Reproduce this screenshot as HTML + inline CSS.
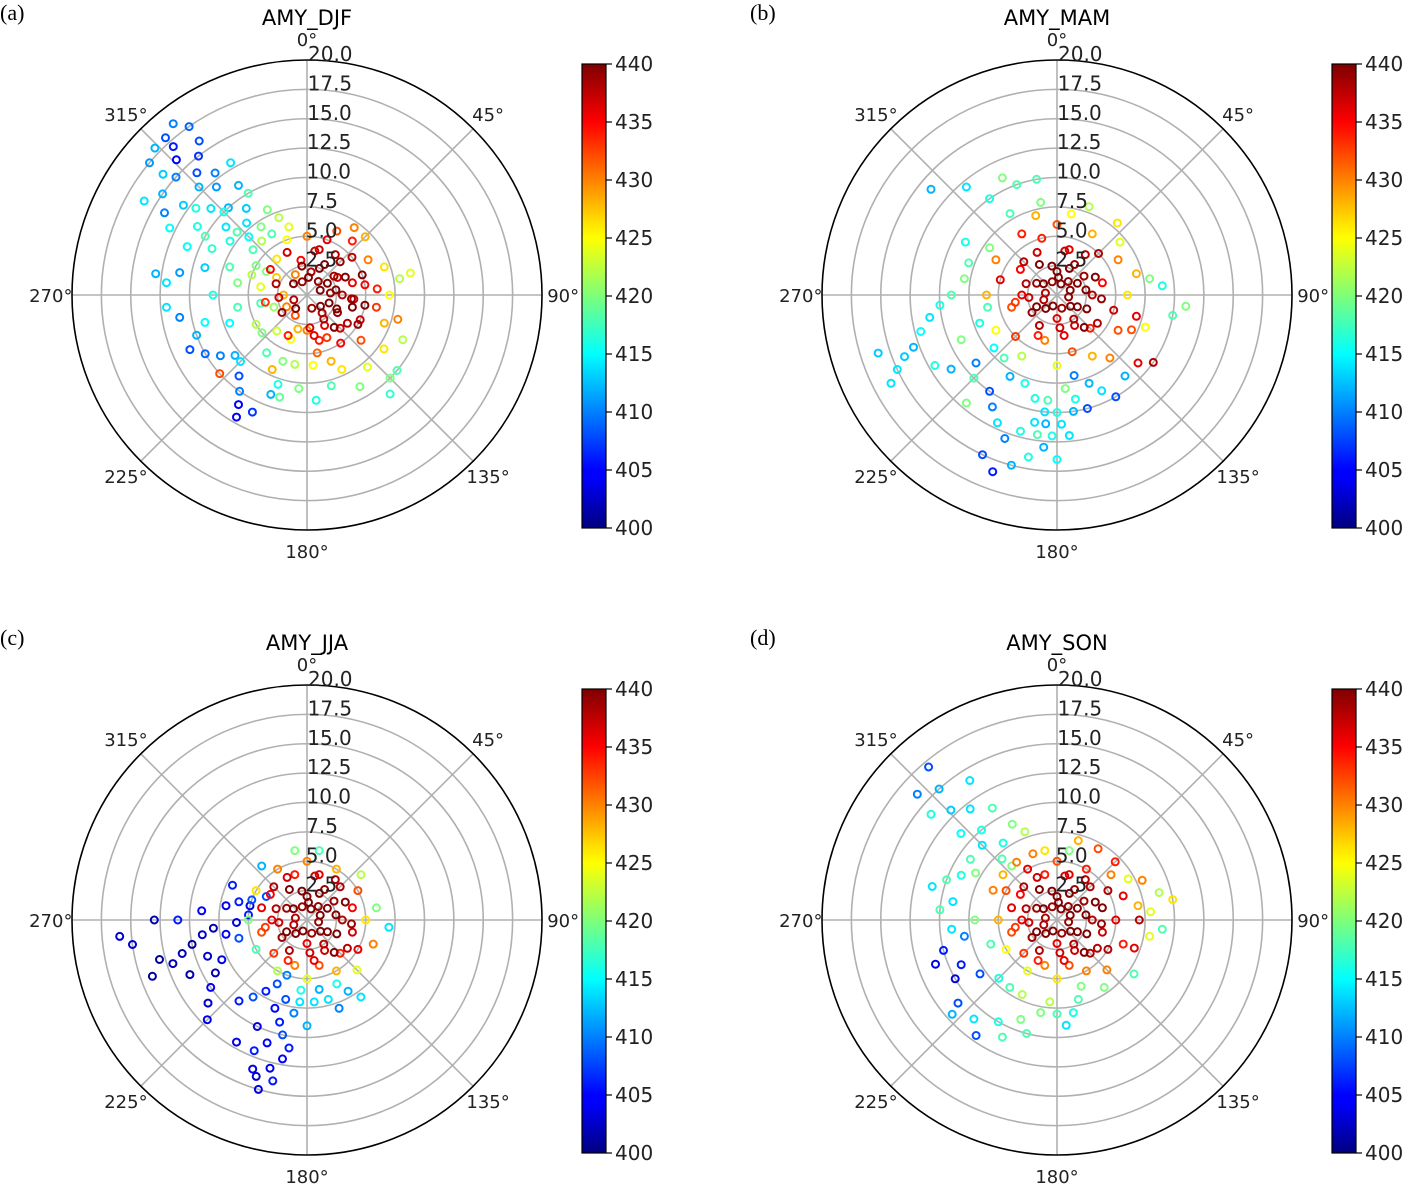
<!DOCTYPE html>
<html><head><meta charset="utf-8">
<style>
html,body{margin:0;padding:0;background:#fff;}
svg{display:block;font-family:"DejaVu Sans","Liberation Sans",sans-serif;}
.plab{font-family:"Liberation Serif",serif;font-size:22px;}
</style></head>
<body>
<svg id="fig" width="1411" height="1186" viewBox="0 0 1411 1186" xmlns="http://www.w3.org/2000/svg">
<defs>
<linearGradient id="jet" x1="0" y1="1" x2="0" y2="0">
<stop offset="0" stop-color="#00007f"/><stop offset="0.11" stop-color="#0000ff"/>
<stop offset="0.125" stop-color="#0000ff"/><stop offset="0.34" stop-color="#00dcff"/>
<stop offset="0.375" stop-color="#00ffff"/><stop offset="0.5" stop-color="#7dff7a"/>
<stop offset="0.625" stop-color="#ffff00"/><stop offset="0.66" stop-color="#ffe000"/>
<stop offset="0.875" stop-color="#ff0000"/><stop offset="1" stop-color="#7f0000"/>
</linearGradient>
</defs>
</svg>
<script>
// [direction deg, wind speed, concentration]
const ticksR = [2.5,5.0,7.5,10.0,12.5,15.0,17.5,20.0];
const ticksTheta = [0,45,90,135,180,225,270,315];
const cbarTicks = [400,405,410,415,420,425,430,435,440];
const titles = ["AMY_DJF","AMY_MAM","AMY_JJA","AMY_SON"];
const panelLabels = ["(a)","(b)","(c)","(d)"];

const coreCommon = [
[5,1.5,440],[40,1.5,439],[70,1.2,440],[130,1.5,440],[160,1.2,439],[220,1.5,440],[250,1.2,438],[310,1.5,440],[340,1.2,439],
[25,2.5,440],[55,2.8,439],[80,2.5,440],[115,2.8,440],[145,2.5,438],[175,2.8,437],[235,2.6,439],[265,2.4,437],[290,2.8,438],[350,2.5,440],
[10,3.8,437],[35,4.2,438],[65,3.6,440],[95,3.8,439],[125,4.2,438],[140,3.6,440],[170,3.5,436],[205,3.8,434],[260,3.6,433],[305,3.8,435],[335,4.0,437]
];
const dataDJF = [
[10,2,438],[30,3,440],[45,4,439],[60,3,437],[75,4,436],[90,3,438],[105,4,440],[120,3,439],[135,4,437],[150,3,436],[165,4,434],[180,3,430],[195,3,428],[210,2,432],[240,2,430],[270,2,428],[300,3,427],[330,2,430],[350,3,435],[20,5,436],[50,5,438],[80,5,435],[100,6,433],[115,5,437],[130,6,432],[145,5,435],[160,6,428],[175,6,425],[190,6,422],[60,6,430],[40,6,434],[25,6,432],[0,5,430],[90,7,425],[110,7,428],[125,8,426],[140,8,424],[150,9,420],[165,8,418],[175,9,416],[185,8,420],[195,9,419],[80,8,422],[78,9,424],[70,7,426],[45,7,428],[115,9,422],[130,10,418],[140,11,417],[135,10,420],
[60,2,440],[85,2,439],[110,2,440],[140,2,438],[100,5,440],[120,5,439],[70,5,440],[95,4,437],[155,4,433],[170,5,431],[200,4,425],[220,4,423],[250,3,421],[280,4,424],[320,4,426],[15,4,437],[35,7,430],[85,6,434],[105,8,430],[155,7,426],[200,6,420],[215,6,418],[230,5,420],[260,4,418],[300,4,420],[340,5,425],
[300,5,420],[310,6,418],[315,7,415],[320,8,414],[305,8,416],[325,9,413],[318,10,412],[312,11,414],[320,12,411],[323,13,410],[315,13,412],[318,14,408],[322,15,407],[312,15,410],[316,16,405],[310,16,413],[325,16,408],[318,17,406],[308,12,416],[300,10,418],[330,10,418],[335,8,420],[340,7,422],[345,6,424],[290,7,418],[285,9,413],[280,11,411],[275,12,414],[278,13,412],[265,12,414],[260,11,410],[255,9,415],[250,10,412],[245,11,408],[240,10,409],[235,9,410],[230,8,412],[225,8,414],[220,9,408],[215,10,410],[212,11,405],[210,12,405],[205,11,407],[200,9,412],[198,8,416],[250,7,415],[260,6,418],[270,8,416],[280,6,420],[240,5,422],[228,10,432],[205,7,428],[290,5,422],[300,14,410],[305,15,412],[296,13,415],[310,9,414],[328,11,412],[315,10,416],
[318,18,408],[322,18.5,410],[314,18,412],[325,17.5,409],[310,17.5,411],[300,16,414],[330,13,414],[306,13,413],[302,11,416],[296,9,417],[292,11,415],[312,8,418],[326,7,420],[330,6,418],[320,6,422]
];
const dataMAM = [
[0,2,440],[30,3,439],[60,2,440],[90,3,438],[120,2,440],[150,3,437],[180,2,436],[210,3,438],[240,2,440],[270,3,436],[300,2,439],[330,3,440],[15,4,436],[45,5,438],[75,4,435],[105,5,437],[135,4,434],[165,5,432],[195,4,430],[225,5,433],[255,4,432],[285,5,436],[315,4,438],[345,5,434],[0,6,432],[30,6,428],[60,6,430],[90,6,426],[120,6,432],[150,6,428],[180,6,424],[210,6,422],[240,6,425],[270,6,428],[300,6,430],[330,6,434],[20,1,440],[100,1,439],[200,1,440],[280,1,438],[50,7,424],[80,8,420],[110,8,425],[130,9,436],[125,10,438],[140,7,430],[100,10,418],[95,11,420],[85,9,416],[20,8,422],[350,8,420],[10,7,425],
[330,8,418],[325,10,416],[320,12,414],[310,14,412],[335,11,420],[340,10,418],[300,9,416],[290,8,418],[280,8,420],[270,9,418],[265,10,416],[260,11,414],[255,12,415],[250,13,412],[248,14,413],[245,15,414],[252,16,413],[242,16,414],[240,12,416],[235,11,412],[245,9,420],[230,9,410],[225,10,418],[220,12,420],[215,10,408],[210,11,410],[205,12,414],[200,13,410],[195,12,416],[190,11,414],[185,13,412],[190,14,416],[195,15,412],[200,16,406],[205,15,408],[180,10,416],[185,9,418],[175,8,420],[170,9,416],[165,10,408],[160,8,412],[155,9,414],[175,12,414],[180,14,415],[188,12,418],[200,8,416],[210,8,412],[220,7,418],[230,7,415],[250,7,416],[260,6,418],
[185,11,412],[182,12,416],[178,11,414],[186,10,414],[192,9,416],[172,10,412],[168,7,410],[150,10,408],[140,9,412],[115,7,432],[105,7,436],[75,7,428],[40,8,426],[345,7,428],[350,10,418],[305,7,420]
];
const dataJJA = [
[0,2,440],[30,3,439],[60,2,440],[90,3,438],[120,2,440],[150,3,437],[180,2,436],[210,3,438],[240,2,440],[270,3,436],[300,2,439],[330,3,440],[15,4,436],[45,4,438],[75,4,435],[105,4,437],[135,4,434],[165,4,432],[195,4,430],[225,4,433],[255,4,432],[285,4,436],[315,4,438],[345,4,434],[0,5,430],[30,5,428],[60,5,432],[90,5,426],[120,5,436],[150,5,428],[180,5,424],[210,5,422],[240,5,418],[270,5,420],[300,5,426],[330,5,430],[20,1,440],[100,1,439],[200,1,440],[280,1,438],[50,6,422],[80,6,420],[110,6,430],[135,6,424],[350,6,420],[10,6,418],[320,6,412],[95,7,414],
[255,6,408],[260,7,405],[265,8,402],[262,9,403],[258,10,401],[255,11,402],[252,12,402],[255,13,401],[250,14,401],[262,15,403],[265,16,403],[270,11,406],[275,9,405],[280,7,404],[285,6,406],[250,9,403],[245,8,404],[240,9,402],[235,10,405],[230,11,403],[225,12,404],[245,11,402],[270,13,402],[290,5,408],[295,7,406],
[200,5,410],[205,6,408],[210,7,406],[200,8,405],[195,9,406],[205,10,404],[198,11,405],[202,12,406],[194,13,404],[198,14,403],[190,12,405],[192,10,408],[188,8,410],[185,7,414],[215,8,408],[220,9,406],[210,12,404],[180,9,412],[175,7,414],[170,6,412],[165,7,414],[160,8,410],[155,6,416],[150,7,412],[145,8,414],[185,6,416],
[196,15,404],[192,14,406],[200,13.5,404],[188,11,406],[195,7,408],[268,6,404],[275,5,406],[284,5,404],[300,4,408]
];
const dataSON = [
[0,2,440],[30,3,439],[60,2,440],[90,3,438],[120,2,440],[150,3,437],[180,2,436],[210,3,438],[240,2,440],[270,3,436],[300,2,439],[330,3,440],[15,4,436],[45,4,438],[75,4,440],[105,4,437],[135,4,438],[165,4,432],[195,4,430],[225,4,433],[255,4,432],[285,4,436],[315,4,438],[345,4,434],[0,5,432],[30,5,434],[60,5,438],[90,5,436],[120,5,438],[150,5,430],[180,5,426],[210,5,424],[240,5,425],[270,5,428],[300,5,432],[330,5,436],[20,1,440],[100,1,439],[200,1,440],[280,1,438],[50,6,430],[80,7,428],[110,6,434],[135,6,430],[85,8,424],[75,9,422],[95,9,418],[100,8,424],[80,10,426],[60,7,424],[350,6,426],[10,6,420],[125,8,418],[145,7,420],
[320,6,420],[318,7,418],[325,8,416],[315,9,414],[320,10,416],[312,11,415],[322,12,414],[316,13,413],[310,14,416],[318,15,412],[312,16,410],[320,17,408],[328,14,414],[330,11,418],[335,9,420],[340,8,422],[305,9,418],[300,8,420],[295,9,416],[290,10,418],[285,11,414],[280,9,414],[275,10,418],[265,9,414],[260,8,410],[255,10,406],[250,11,404],[245,9,406],[240,10,404],[235,8,408],[230,11,408],[228,12,412],[220,11,414],[215,12,408],[210,10,416],[205,11,418],[200,9,420],[195,10,418],[190,8,420],[185,7,422],[180,8,418],[175,9,414],[170,8,416],[165,7,418],[160,6,420],[215,7,418],[225,7,416],[250,6,418],[270,7,420],[205,7,422],
[70,6,436],[90,7,438],[110,7,436],[65,8,430],[45,7,434],[30,7,432],[15,7,428],[340,6,430],[325,6,430],[310,6,428],[295,6,430]
];
const datasets = [dataDJF,dataMAM,dataJJA,dataSON];

const NS = "http://www.w3.org/2000/svg";
const svg = document.getElementById('fig');
const centers = [[307,295],[1057,295],[307,920],[1057,920]];
const R = 235, RMAX = 20;
const CMIN = 400, CMAX = 440;
function jet(v){
  let x = Math.max(0,Math.min(1,(v-CMIN)/(CMAX-CMIN)));
  const c = t=>Math.round(255*Math.max(0,Math.min(1,1.5-Math.abs(4*x-t))));
  return `rgb(${c(3)},${c(2)},${c(1)})`;
}
function rScale(s){return s/RMAX*R;}
function pos(cx,cy,dir,spd){const a=dir*Math.PI/180, r=rScale(spd);return [cx+r*Math.sin(a), cy-r*Math.cos(a)];}
function mk(tag,attrs,parent){const e=document.createElementNS(NS,tag);for(const k in attrs)e.setAttribute(k,attrs[k]);(parent||svg).appendChild(e);return e;}

centers.forEach(([cx,cy],p)=>{
  const g = mk('g',{});
  
  
  const pl = mk('text',{x:cx-307,y:cy-275,'class':'plab'},g); pl.textContent=panelLabels[p];
  
  
  const tt = mk('text',{x:cx,y:cy-270,'text-anchor':'middle','font-size':21},g); tt.textContent=titles[p];
  
  
  ticksR.slice(0,-1).forEach(v=>{ mk('circle',{cx,cy,r:rScale(v),fill:'none',stroke:'#b0b0b0','stroke-width':1.6},g); });
  ticksTheta.forEach(t=>{ const [x,y]=pos(cx,cy,t,RMAX); mk('line',{x1:cx,y1:cy,x2:x,y2:y,stroke:'#b0b0b0','stroke-width':1.6},g); });
  const pts = datasets[p].concat(coreCommon).sort((a,b)=>a[2]-b[2]);
  const pg = mk('g',{},g);
  
  
  pts.forEach(d=>{
    const [x,y]=pos(cx,cy,d[0],d[1]);
    const c = mk('circle',{cx:x.toFixed(1),cy:y.toFixed(1),r:3.5,fill:'none',stroke:jet(d[2]),'stroke-width':2},pg);
    
    
  });
  mk('circle',{cx,cy,r:R,fill:'none',stroke:'#000','stroke-width':1.6},g);
  ticksR.forEach(v=>{
    const t = mk('text',{x:cx+(v/RMAX)*3-2,y:cy-rScale(v)+1,'font-size':20,fill:'#222'},g);
    t.textContent=v.toFixed(1);
    
    
  });
  ticksTheta.forEach(th=>{
    const [x,y]=pos(cx,cy,th,RMAX*1.09);
    const t = mk('text',{x:x.toFixed(1),y:(y+7).toFixed(1),'text-anchor':'middle','font-size':18,fill:'#222'},g);
    t.textContent=th+'°';
    
    
  });
  const bx = cx+275, by = cy-231, bh = 464, bw = 24;
  const cb = mk('g',{},g);
  
  
  mk('rect',{x:bx,y:by,width:bw,height:bh,fill:'url(#jet)',stroke:'#000','stroke-width':1.2},cb);
  cbarTicks.forEach(v=>{
    const y = by+bh-(v-CMIN)/(CMAX-CMIN)*bh;
    mk('line',{x1:bx+bw,y1:y,x2:bx+bw+6,y2:y,stroke:'#000','stroke-width':1.2},cb);
    const t = mk('text',{x:bx+bw+9,y:y+7,'font-size':20,fill:'#222'},cb);
    t.textContent=v;
    
    
  });
});
</script>
</body></html>
